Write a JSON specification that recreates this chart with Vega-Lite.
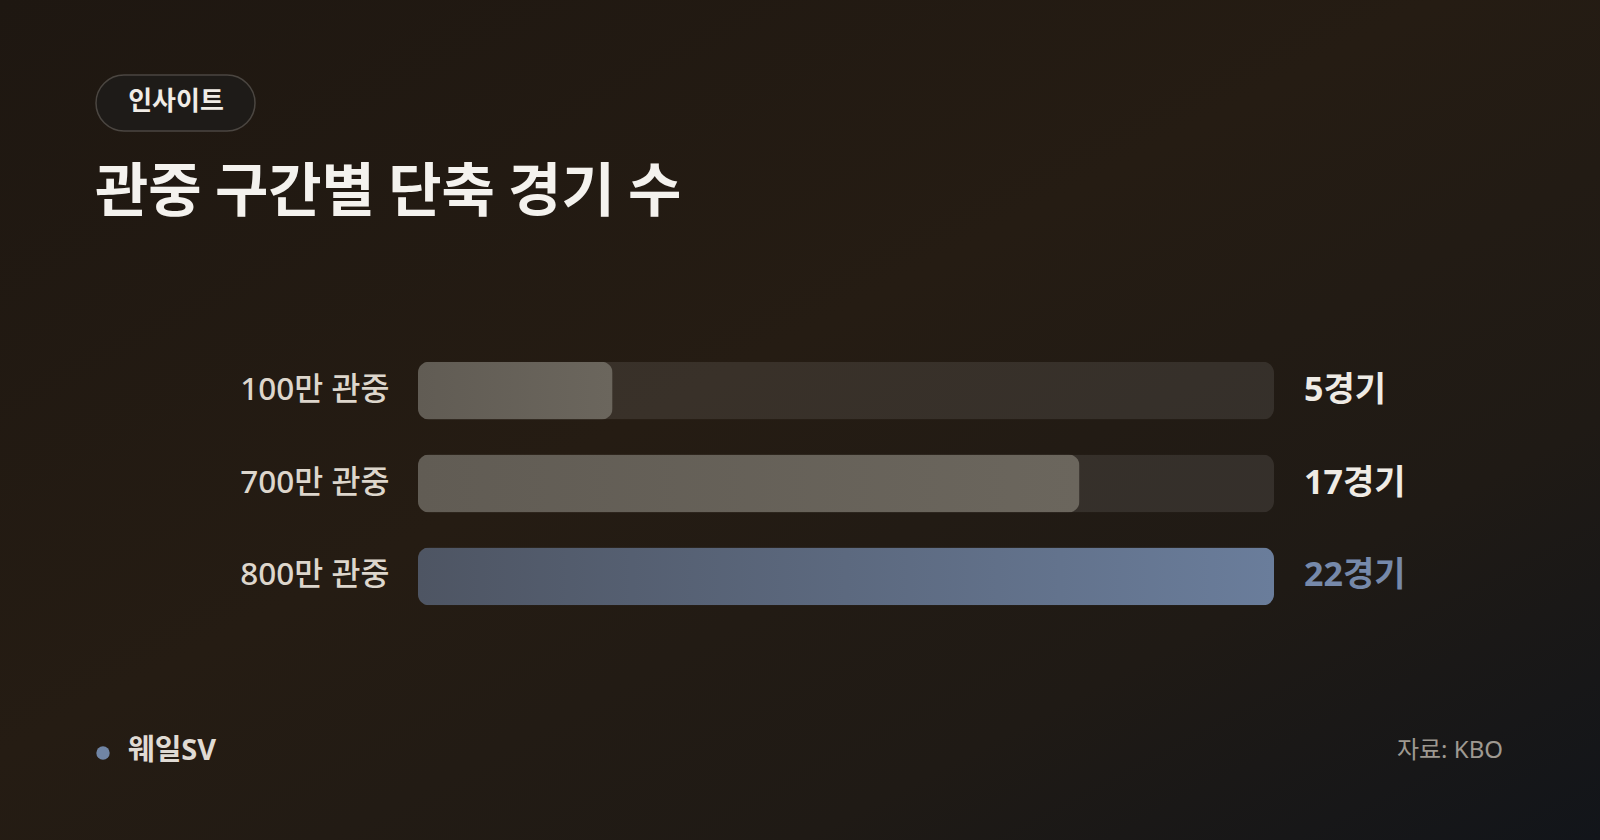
{
  "$schema": "https://vega.github.io/schema/vega-lite/v6.json",
  "width": 856,
  "height": 279,
  "autosize": "none",
  "padding": {"left": 418, "top": 344, "right": 326, "bottom": 217},
  "background": "#211a13",
  "data": {
    "values": [
      {"label": "100만 관중", "games": 5, "total": 22, "text": "5경기", "highlight": false},
      {"label": "700만 관중", "games": 17, "total": 22, "text": "17경기", "highlight": false},
      {"label": "800만 관중", "games": 22, "total": 22, "text": "22경기", "highlight": true}
    ]
  },
  "encoding": {
    "y": {
      "field": "label",
      "type": "nominal",
      "sort": null,
      "scale": {"paddingInner": 0.376, "paddingOuter": 0.19},
      "axis": {
        "title": null,
        "domain": false,
        "ticks": false,
        "zindex": 2,
        "labelPadding": 29,
        "labelFont": "Noto Sans, Noto Sans CJK KR",
        "labelFontSize": 31.5,
        "labelFontWeight": 500,
        "labelColor": "#ddd6cc"
      }
    }
  },
  "layer": [
    {
      "data": {"values": [{"bg": "canvas"}]},
      "mark": {
        "type": "rect",
        "fill": {
          "gradient": "linear",
          "x1": 0, "y1": 0, "x2": 1, "y2": 1,
          "stops": [
            {"offset": 0, "color": "#1e1711"},
            {"offset": 0.45, "color": "#251c13"},
            {"offset": 0.75, "color": "#1f1a15"},
            {"offset": 1, "color": "#12151a"}
          ]
        }
      },
      "encoding": {
        "x": {"value": -418},
        "x2": {"value": 1182},
        "y": {"value": -344},
        "y2": {"value": 496}
      }
    },
    {
      "mark": {"type": "bar", "cornerRadius": 11, "fill": "#ffffff", "fillOpacity": 0.095},
      "encoding": {
        "x": {"field": "total", "type": "quantitative", "scale": {"domain": [0, 22]}, "axis": null}
      }
    },
    {
      "transform": [{"filter": "!datum.highlight"}],
      "mark": {
        "type": "bar",
        "cornerRadius": 11,
        "fill": {
          "gradient": "linear",
          "x1": 0, "y1": 0, "x2": 1, "y2": 0,
          "stops": [
            {"offset": 0, "color": "#615c54"},
            {"offset": 1, "color": "#6b665d"}
          ]
        }
      },
      "encoding": {
        "x": {"field": "games", "type": "quantitative"}
      }
    },
    {
      "transform": [{"filter": "datum.highlight"}],
      "mark": {
        "type": "bar",
        "cornerRadius": 11,
        "fill": {
          "gradient": "linear",
          "x1": 0, "y1": 0, "x2": 1, "y2": 0,
          "stops": [
            {"offset": 0, "color": "#4e5563"},
            {"offset": 1, "color": "#6a7d9b"}
          ]
        }
      },
      "encoding": {
        "x": {"field": "games", "type": "quantitative"}
      }
    },
    {
      "mark": {
        "type": "text",
        "align": "left",
        "baseline": "middle",
        "dx": 30,
        "font": "Noto Sans, Noto Sans CJK KR",
        "fontSize": 34,
        "fontWeight": "bold"
      },
      "encoding": {
        "x": {"field": "total", "type": "quantitative"},
        "text": {"field": "text"},
        "color": {
          "condition": {"test": "datum.highlight", "value": "#7689aa"},
          "value": "#efebe5"
        }
      }
    },
    {
      "data": {"values": [{"title": "관중 구간별 단축 경기 수"}]},
      "mark": {
        "type": "text",
        "align": "left",
        "baseline": "middle",
        "font": "Noto Sans CJK KR",
        "fontSize": 58,
        "fontWeight": "bold",
        "color": "#f4f2ee"
      },
      "encoding": {
        "text": {"field": "title"},
        "x": {"value": -323},
        "y": {"value": -150}
      }
    },
    {
      "data": {"values": [{"tag": "인사이트"}]},
      "mark": {
        "type": "rect",
        "cornerRadius": 28,
        "fill": "#1e1b18",
        "stroke": "#4b4641",
        "strokeWidth": 1.5
      },
      "encoding": {
        "x": {"value": -322},
        "x2": {"value": -163},
        "y": {"value": -269},
        "y2": {"value": -213}
      }
    },
    {
      "data": {"values": [{"tag": "인사이트"}]},
      "mark": {
        "type": "text",
        "align": "center",
        "baseline": "middle",
        "font": "Noto Sans CJK KR",
        "fontSize": 26,
        "fontWeight": "bold",
        "color": "#f0ece6"
      },
      "encoding": {
        "text": {"field": "tag"},
        "x": {"value": -242},
        "y": {"value": -242}
      }
    },
    {
      "data": {"values": [{"brand": "웨일SV"}]},
      "mark": {"type": "point", "shape": "circle", "filled": true, "size": 180, "color": "#7085a5", "opacity": 1},
      "encoding": {
        "x": {"value": -315},
        "y": {"value": 409}
      }
    },
    {
      "data": {"values": [{"brand": "웨일SV"}]},
      "mark": {
        "type": "text",
        "align": "left",
        "baseline": "middle",
        "font": "Noto Sans, Noto Sans CJK KR",
        "fontSize": 29,
        "fontWeight": "bold",
        "color": "#e0dbd4"
      },
      "encoding": {
        "text": {"field": "brand"},
        "x": {"value": -290},
        "y": {"value": 407}
      }
    },
    {
      "data": {"values": [{"source": "자료: KBO"}]},
      "mark": {
        "type": "text",
        "align": "right",
        "baseline": "middle",
        "font": "Noto Sans, Noto Sans CJK KR",
        "fontSize": 24,
        "color": "#9e9991"
      },
      "encoding": {
        "text": {"field": "source"},
        "x": {"value": 1085},
        "y": {"value": 407}
      }
    }
  ],
  "config": {
    "view": {"stroke": null},
    "font": "Noto Sans CJK KR"
  }
}
